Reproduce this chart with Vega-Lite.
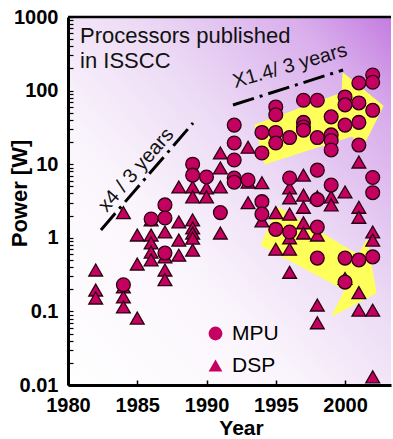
{
  "$schema": "https://vega.github.io/schema/vega-lite/v6.json",
  "width": 323,
  "height": 368,
  "autosize": {"type": "none"},
  "padding": {"left": 68, "top": 17, "right": 2, "bottom": 54},
  "background": "white",
  "config": {
    "view": {"stroke": null},
    "font": "Liberation Sans",
    "axis": {"grid": false, "domainColor": "#000", "tickColor": "#000", "labelColor": "#000", "titleColor": "#000", "labelFont": "Liberation Sans", "titleFont": "Liberation Sans"}
  },
  "datasets": {
    "points": [
      {"year": 1982, "power": 0.365, "type": "DSP"},
      {"year": 1982, "power": 0.195, "type": "DSP"},
      {"year": 1982, "power": 0.152, "type": "DSP"},
      {"year": 1984, "power": 2.2, "type": "DSP"},
      {"year": 1984, "power": 0.215, "type": "DSP"},
      {"year": 1984, "power": 0.157, "type": "DSP"},
      {"year": 1984, "power": 0.115, "type": "DSP"},
      {"year": 1985, "power": 1.09, "type": "DSP"},
      {"year": 1985, "power": 0.44, "type": "DSP"},
      {"year": 1985, "power": 0.081, "type": "DSP"},
      {"year": 1986, "power": 1.75, "type": "DSP"},
      {"year": 1986, "power": 1.09, "type": "DSP"},
      {"year": 1986, "power": 0.85, "type": "DSP"},
      {"year": 1986, "power": 0.64, "type": "DSP"},
      {"year": 1986, "power": 0.5, "type": "DSP"},
      {"year": 1987, "power": 1.2, "type": "DSP"},
      {"year": 1987, "power": 0.55, "type": "DSP"},
      {"year": 1987, "power": 0.365, "type": "DSP"},
      {"year": 1987, "power": 0.27, "type": "DSP"},
      {"year": 1988, "power": 4.9, "type": "DSP"},
      {"year": 1988, "power": 1.64, "type": "DSP"},
      {"year": 1988, "power": 0.93, "type": "DSP"},
      {"year": 1988, "power": 0.58, "type": "DSP"},
      {"year": 1989, "power": 4.9, "type": "DSP"},
      {"year": 1989, "power": 3.6, "type": "DSP"},
      {"year": 1989, "power": 1.75, "type": "DSP"},
      {"year": 1989, "power": 1.36, "type": "DSP"},
      {"year": 1989, "power": 1.16, "type": "DSP"},
      {"year": 1989, "power": 0.99, "type": "DSP"},
      {"year": 1989, "power": 0.68, "type": "DSP"},
      {"year": 1990, "power": 4.75, "type": "DSP"},
      {"year": 1990, "power": 3.6, "type": "DSP"},
      {"year": 1991, "power": 14.2, "type": "DSP"},
      {"year": 1991, "power": 8.9, "type": "DSP"},
      {"year": 1991, "power": 4.9, "type": "DSP"},
      {"year": 1991, "power": 1.16, "type": "DSP"},
      {"year": 1993, "power": 17, "type": "DSP"},
      {"year": 1993, "power": 5.7, "type": "DSP"},
      {"year": 1993, "power": 3.0, "type": "DSP"},
      {"year": 1994, "power": 5.6, "type": "DSP"},
      {"year": 1994, "power": 1.7, "type": "DSP"},
      {"year": 1995, "power": 2.2, "type": "DSP"},
      {"year": 1995, "power": 0.7, "type": "DSP"},
      {"year": 1996, "power": 4.75, "type": "DSP"},
      {"year": 1996, "power": 3.5, "type": "DSP"},
      {"year": 1996, "power": 2.1, "type": "DSP"},
      {"year": 1996, "power": 1.0, "type": "DSP"},
      {"year": 1996, "power": 0.7, "type": "DSP"},
      {"year": 1996, "power": 0.34, "type": "DSP"},
      {"year": 1997, "power": 7.1, "type": "DSP"},
      {"year": 1997, "power": 3.8, "type": "DSP"},
      {"year": 1997, "power": 2.6, "type": "DSP"},
      {"year": 1997, "power": 1.6, "type": "DSP"},
      {"year": 1997, "power": 1.16, "type": "DSP"},
      {"year": 1998, "power": 3.6, "type": "DSP"},
      {"year": 1998, "power": 1.09, "type": "DSP"},
      {"year": 1998, "power": 0.122, "type": "DSP"},
      {"year": 1998, "power": 0.07, "type": "DSP"},
      {"year": 1999, "power": 3.6, "type": "DSP"},
      {"year": 1999, "power": 2.8, "type": "DSP"},
      {"year": 2000, "power": 4.2, "type": "DSP"},
      {"year": 2000, "power": 0.28, "type": "DSP"},
      {"year": 2001, "power": 10.7, "type": "DSP"},
      {"year": 2001, "power": 2.6, "type": "DSP"},
      {"year": 2001, "power": 1.9, "type": "DSP"},
      {"year": 2001, "power": 0.18, "type": "DSP"},
      {"year": 2001, "power": 0.104, "type": "DSP"},
      {"year": 2002, "power": 1.2, "type": "DSP"},
      {"year": 2002, "power": 0.93, "type": "DSP"},
      {"year": 2002, "power": 0.104, "type": "DSP"},
      {"year": 2002, "power": 0.0129, "type": "DSP"},
      {"year": 1984, "power": 0.23, "type": "MPU"},
      {"year": 1986, "power": 1.8, "type": "MPU"},
      {"year": 1987, "power": 2.8, "type": "MPU"},
      {"year": 1987, "power": 1.86, "type": "MPU"},
      {"year": 1987, "power": 0.62, "type": "MPU"},
      {"year": 1989, "power": 10, "type": "MPU"},
      {"year": 1989, "power": 7.1, "type": "MPU"},
      {"year": 1990, "power": 6.7, "type": "MPU"},
      {"year": 1991, "power": 2.2, "type": "MPU"},
      {"year": 1992, "power": 34, "type": "MPU"},
      {"year": 1992, "power": 19.4, "type": "MPU"},
      {"year": 1992, "power": 11.4, "type": "MPU"},
      {"year": 1992, "power": 6.5, "type": "MPU"},
      {"year": 1992, "power": 5.7, "type": "MPU"},
      {"year": 1993, "power": 6.1, "type": "MPU"},
      {"year": 1994, "power": 27, "type": "MPU"},
      {"year": 1994, "power": 14.2, "type": "MPU"},
      {"year": 1994, "power": 3.1, "type": "MPU"},
      {"year": 1994, "power": 2.1, "type": "MPU"},
      {"year": 1995, "power": 60, "type": "MPU"},
      {"year": 1995, "power": 47, "type": "MPU"},
      {"year": 1995, "power": 27, "type": "MPU"},
      {"year": 1995, "power": 19.4, "type": "MPU"},
      {"year": 1995, "power": 1.3, "type": "MPU"},
      {"year": 1996, "power": 23, "type": "MPU"},
      {"year": 1996, "power": 6.5, "type": "MPU"},
      {"year": 1996, "power": 1.2, "type": "MPU"},
      {"year": 1997, "power": 74, "type": "MPU"},
      {"year": 1997, "power": 37, "type": "MPU"},
      {"year": 1997, "power": 32, "type": "MPU"},
      {"year": 1997, "power": 29, "type": "MPU"},
      {"year": 1998, "power": 74, "type": "MPU"},
      {"year": 1998, "power": 23, "type": "MPU"},
      {"year": 1998, "power": 8.3, "type": "MPU"},
      {"year": 1998, "power": 3.3, "type": "MPU"},
      {"year": 1998, "power": 1.4, "type": "MPU"},
      {"year": 1998, "power": 0.53, "type": "MPU"},
      {"year": 1999, "power": 44, "type": "MPU"},
      {"year": 1999, "power": 25, "type": "MPU"},
      {"year": 1999, "power": 21, "type": "MPU"},
      {"year": 1999, "power": 15.6, "type": "MPU"},
      {"year": 1999, "power": 5.2, "type": "MPU"},
      {"year": 2000, "power": 82, "type": "MPU"},
      {"year": 2000, "power": 64, "type": "MPU"},
      {"year": 2000, "power": 34, "type": "MPU"},
      {"year": 2000, "power": 0.53, "type": "MPU"},
      {"year": 2000, "power": 0.25, "type": "MPU"},
      {"year": 2001, "power": 127, "type": "MPU"},
      {"year": 2001, "power": 68, "type": "MPU"},
      {"year": 2001, "power": 37, "type": "MPU"},
      {"year": 2001, "power": 18.2, "type": "MPU"},
      {"year": 2001, "power": 0.5, "type": "MPU"},
      {"year": 2002, "power": 163, "type": "MPU"},
      {"year": 2002, "power": 130, "type": "MPU"},
      {"year": 2002, "power": 54, "type": "MPU"},
      {"year": 2002, "power": 6.6, "type": "MPU"},
      {"year": 2002, "power": 4.1, "type": "MPU"},
      {"year": 2002, "power": 0.55, "type": "MPU"}
    ],
    "arrow1": [
      {"i": 1, "year": 1993.5, "power": 34.1},
      {"i": 2, "year": 1999.78, "power": 92.7},
      {"i": 3, "year": 1999.86, "power": 173},
      {"i": 4, "year": 2002.75, "power": 61.8},
      {"i": 5, "year": 2001.23, "power": 16.6},
      {"i": 6, "year": 2000.51, "power": 24.2},
      {"i": 7, "year": 1994.22, "power": 10.1}
    ],
    "arrow2": [
      {"i": 1, "year": 1995.16, "power": 2.62},
      {"i": 2, "year": 2000.94, "power": 0.583},
      {"i": 3, "year": 2001.59, "power": 0.933},
      {"i": 4, "year": 2002.24, "power": 0.178},
      {"i": 5, "year": 1999.06, "power": 0.0867},
      {"i": 6, "year": 2000.0, "power": 0.195},
      {"i": 7, "year": 1993.94, "power": 0.798}
    ],
    "trend1": [
      {"year": 1982.38, "power": 1.28},
      {"year": 1989.03, "power": 36.3}
    ],
    "trend2": [
      {"year": 1991.91, "power": 63.7},
      {"year": 1999.86, "power": 190.5}
    ]
  },
  "layer": [
    {
      "data": {"values": [{}]},
      "mark": {
        "type": "rect",
        "fill": {
          "gradient": "linear", "x1": 0, "y1": 1, "x2": 1, "y2": 0,
          "stops": [
            {"offset": 0, "color": "#ffffff"},
            {"offset": 0.35, "color": "#faf5fc"},
            {"offset": 0.6, "color": "#ecdaf5"},
            {"offset": 0.85, "color": "#d9aeec"},
            {"offset": 1, "color": "#c47ce0"}
          ]
        }
      },
      "encoding": {
        "x": {"datum": 1980, "type": "quantitative", "scale": {"domain": [1980, 2003.32], "nice": false, "zero": false}},
        "x2": {"datum": 2003.32},
        "y": {"datum": 0.01, "type": "quantitative", "scale": {"type": "log", "domain": [0.01, 1000], "nice": false}},
        "y2": {"datum": 1000}
      }
    },
    {
      "data": {"values": [{}]},
      "mark": {"type": "rule", "stroke": "#000", "strokeWidth": 2.5},
      "encoding": {
        "x": {"datum": 1980, "type": "quantitative"},
        "x2": {"datum": 2003.32},
        "y": {"datum": 1000, "type": "quantitative"}
      }
    },
    {
      "data": {"name": "arrow1"},
      "mark": {"type": "line", "fill": "#ffff5c", "stroke": "#ffff5c", "strokeWidth": 1, "interpolate": "linear-closed"},
      "encoding": {
        "x": {"field": "year", "type": "quantitative"},
        "y": {"field": "power", "type": "quantitative"},
        "order": {"field": "i"}
      }
    },
    {
      "data": {"name": "arrow2"},
      "mark": {"type": "line", "fill": "#ffff5c", "stroke": "#ffff5c", "strokeWidth": 1, "interpolate": "linear-closed"},
      "encoding": {
        "x": {"field": "year", "type": "quantitative"},
        "y": {"field": "power", "type": "quantitative"},
        "order": {"field": "i"}
      }
    },
    {
      "data": {"name": "trend1"},
      "mark": {"type": "line", "stroke": "#000", "strokeWidth": 3, "strokeDash": [22, 6, 3, 6]},
      "encoding": {
        "x": {"field": "year", "type": "quantitative"},
        "y": {"field": "power", "type": "quantitative"}
      }
    },
    {
      "data": {"name": "trend2"},
      "mark": {"type": "line", "stroke": "#000", "strokeWidth": 3, "strokeDash": [22, 6, 3, 6]},
      "encoding": {
        "x": {"field": "year", "type": "quantitative"},
        "y": {"field": "power", "type": "quantitative"}
      }
    },
    {
      "data": {"values": [{}]},
      "mark": {"type": "text", "text": ["Processors published", "in ISSCC"], "align": "left", "baseline": "alphabetic", "fontSize": 22, "lineHeight": 25, "font": "Liberation Sans", "color": "#111"},
      "encoding": {
        "x": {"datum": 1980.87, "type": "quantitative"},
        "y": {"datum": 443.6, "type": "quantitative"}
      }
    },
    {
      "data": {"values": [{}]},
      "mark": {"type": "text", "text": "x4 / 3 years", "align": "center", "baseline": "middle", "angle": -49, "fontSize": 20, "font": "Liberation Sans", "color": "#111"},
      "encoding": {
        "x": {"datum": 1984.91, "type": "quantitative"},
        "y": {"datum": 8.34, "type": "quantitative"}
      }
    },
    {
      "data": {"values": [{}]},
      "mark": {"type": "text", "text": "X1.4/ 3 years", "align": "center", "baseline": "middle", "angle": -16, "fontSize": 20, "font": "Liberation Sans", "color": "#111"},
      "encoding": {
        "x": {"datum": 1996.03, "type": "quantitative"},
        "y": {"datum": 216, "type": "quantitative"}
      }
    },
    {
      "data": {"name": "points"},
      "mark": {"type": "point", "filled": true, "fill": "#c40060", "stroke": "#2a0010", "strokeWidth": 1.3, "opacity": 1, "size": 190},
      "encoding": {
        "x": {
          "field": "year", "type": "quantitative",
          "axis": {"zindex": 1, "orient": "bottom", "values": [1980, 1985, 1990, 1995, 2000], "format": "d", "tickSize": -5, "tickWidth": 1.5, "domainWidth": 3,
                   "labelFontSize": 20, "labelFontWeight": "bold", "labelPadding": 15, "labelFlush": false,
                   "title": "Year", "titleFontSize": 21, "titleFontWeight": "bold", "titleX": 173, "titlePadding": 2}
        },
        "y": {
          "field": "power", "type": "quantitative",
          "axis": {
            "zindex": 1, "orient": "left",
            "values": [0.01,0.02,0.03,0.04,0.05,0.06,0.07,0.08,0.09,0.1,0.2,0.3,0.4,0.5,0.6,0.7,0.8,0.9,1,2,3,4,5,6,7,8,9,10,20,30,40,50,60,70,80,90,100,200,300,400,500,600,700,800,900,1000],
            "labelExpr": "indexof(['0.01','0.1','1','10','100','1000'], format(datum.value, '~g')) >= 0 ? format(datum.value, '~g') : ''",
            "tickSize": -5, "tickWidth": 1.2, "domainWidth": 3,
            "labelFontWeight": "bold", "labelFontSize": 20, "labelPadding": 15,
            "labelFlush": false, "labelOverlap": false,
            "title": "Power [W]", "titleFontSize": 22, "titleFontWeight": "bold",
            "titleX": -37, "titleY": 176
          }
        },
        "shape": {
          "field": "type", "type": "nominal",
          "scale": {"domain": ["MPU", "DSP"], "range": ["circle", "triangle-up"]},
          "legend": {"orient": "none", "legendX": 137, "legendY": 306, "title": null, "padding": 0,
                     "labelFontSize": 21, "labelFont": "Liberation Sans", "labelColor": "#000",
                     "symbolSize": 190, "symbolFillColor": "#c40060", "symbolStrokeColor": "#2a0010", "symbolStrokeWidth": 1.3, "symbolOpacity": 1,
                     "labelOffset": 6, "rowPadding": 10}
        }
      }
    }
  ]
}
